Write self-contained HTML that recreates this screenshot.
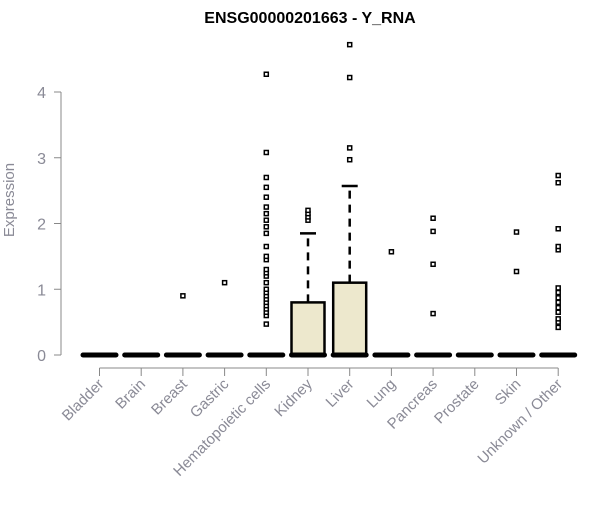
<!DOCTYPE html>
<html><head><meta charset="utf-8"><style>
body{margin:0;background:#fff}
svg{font-family:"Liberation Sans",Arial,sans-serif}
</style></head><body>
<svg width="600" height="500" xmlns="http://www.w3.org/2000/svg">
<text x="310" y="23" text-anchor="middle" font-weight="bold" font-size="16" fill="#000">ENSG00000201663 - Y_RNA</text>
<text transform="translate(14,200) rotate(-90)" text-anchor="middle" font-size="15" fill="#8a8a96">Expression</text>
<g id="yaxis"></g>
<g id="xaxis"></g>
<g id="plot"></g>
</svg>
<script>
const categories=["Bladder","Brain","Breast","Gastric","Hematopoietic cells","Kidney","Liver","Lung","Pancreas","Prostate","Skin","Unknown / Other"];
const boxQ1=[0,0,0,0,0,0,0,0,0,0,0,0];
const boxMedian=[0,0,0,0,0,0,0,0,0,0,0,0];
const boxQ3=[0,0,0,0,0,0.8,1.1,0,0,0,0,0];
const whiskerHigh=[0,0,0,0,0,1.85,2.57,0,0,0,0,0];
const outliers=[[],[],[0.9],[1.1],
[0.47,0.6,0.65,0.7,0.75,0.8,0.85,0.9,0.95,1.0,1.1,1.2,1.25,1.3,1.45,1.5,1.65,1.85,1.95,2.05,2.15,2.25,2.4,2.55,2.7,3.08,4.27],
[2.05,2.1,2.15,2.2],[2.97,3.15,4.22,4.72],[1.57],[0.63,1.38,1.88,2.08],[],[1.27,1.87],
[0.42,0.5,0.55,0.65,0.72,0.8,0.87,0.95,1.02,1.6,1.65,1.92,2.62,2.73]];
const yTicks=[0,1,2,3,4];
const NS="http://www.w3.org/2000/svg";
const y=v=>355-v*65.75;
const x=i=>99.5+i*41.7;
function mk(tag,attrs,parent){const e=document.createElementNS(NS,tag);for(const k in attrs)e.setAttribute(k,attrs[k]);parent.appendChild(e);return e;}
const ya=document.getElementById('yaxis'),xa=document.getElementById('xaxis'),pl=document.getElementById('plot');
mk('line',{x1:61,x2:61,y1:y(0),y2:y(4),stroke:'#888'},ya);
yTicks.forEach(t=>{
 const l=mk('line',{x1:54,x2:61,y1:y(t),y2:y(t),stroke:'#888'},ya);
 
 
 const tx=mk('text',{x:46,y:y(t)+6,'text-anchor':'end','font-size':16,fill:'#8a8a96'},ya);
 tx.textContent=t;
 
 
});
mk('line',{x1:x(0),x2:x(11),y1:368,y2:368,stroke:'#888'},xa);
categories.forEach((c,i)=>{
 const l=mk('line',{x1:x(i),x2:x(i),y1:368,y2:376,stroke:'#888'},xa);
 
 
 const tx=mk('text',{transform:`translate(${x(i)+5},${385}) rotate(-45)`,'text-anchor':'end','font-size':15,fill:'#8a8a96'},xa);
 tx.textContent=c;
 
 
 const g=mk('g',{},pl);
 
 
 const cx=x(i),hw=16.5;
 if(whiskerHigh[i]>boxQ3[i]){
  mk('line',{x1:cx,x2:cx,y1:y(boxQ3[i]),y2:y(whiskerHigh[i]),stroke:'#000','stroke-width':2.5,'stroke-dasharray':'8,6'},g);
  mk('line',{x1:cx-8,x2:cx+8,y1:y(whiskerHigh[i]),y2:y(whiskerHigh[i]),stroke:'#000','stroke-width':2.5},g);
 }
 if(boxQ3[i]>boxQ1[i]){
  mk('rect',{x:cx-hw,y:y(boxQ3[i]),width:hw*2,height:y(boxQ1[i])-y(boxQ3[i]),fill:'#ede8cd',stroke:'#000','stroke-width':2.5},g);
 }
 mk('line',{x1:cx-hw,x2:cx+hw,y1:y(boxMedian[i]),y2:y(boxMedian[i]),stroke:'#000','stroke-width':5,'stroke-linecap':'round'},g);
 outliers[i].forEach(v=>{
  const r=mk('rect',{x:cx-2,y:y(v)-2,width:4,height:4,fill:'#fff',stroke:'#000','stroke-width':1.5},g);
  
  
 });
});
</script>
</body></html>
